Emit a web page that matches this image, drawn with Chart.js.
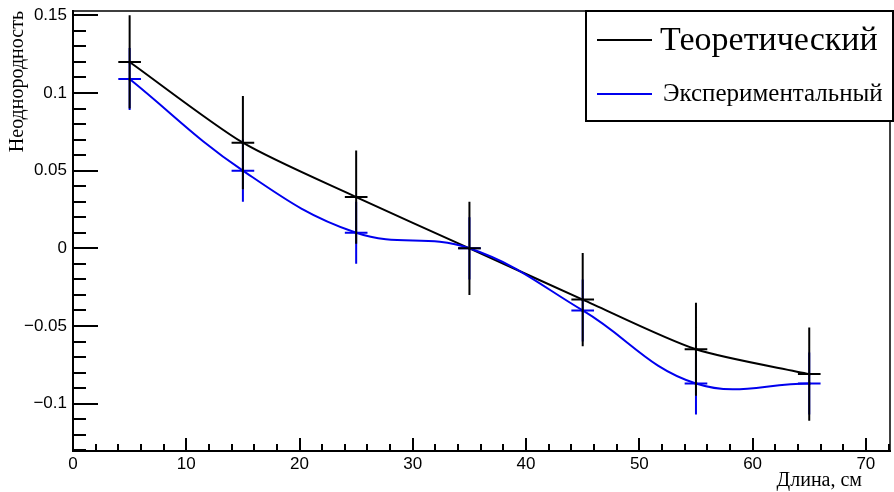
<!DOCTYPE html>
<html>
<head>
<meta charset="utf-8">
<script src="https://cdn.jsdelivr.net/npm/chart.js@4"></script>
<style>
  body { margin: 0; background: #fff; }
  canvas { display: block; }
</style>
</head>
<body>
<canvas id="plot" width="894" height="492"></canvas>
<script>
// measurement points, cm
const lengths = [5, 15, 25, 35, 45, 55, 65];
const lengthErrors = [1, 1, 1, 1, 1, 1, 1];

const theoryValues = [0.12, 0.068, 0.033, 0, -0.033, -0.065, -0.081];
const theoryErrors = [0.03, 0.03, 0.03, 0.03, 0.03, 0.03, 0.03];

const expValues = [0.109, 0.05, 0.01, 0, -0.04, -0.087, -0.087];
const expErrors = [0.02, 0.02, 0.02, 0.02, 0.02, 0.02, 0.02];

const xMajorTicks = [0, 10, 20, 30, 40, 50, 60, 70];
const xTickLabels = ["0", "10", "20", "30", "40", "50", "60", "70"];
const yMajorTicks = [-0.1, -0.05, 0, 0.05, 0.1, 0.15];
const yTickLabels = ["\u22120.1", "\u22120.05", "0", "0.05", "0.1", "0.15"];

const legendNames = ["Теоретический", "Экспериментальный"];

document.addEventListener("DOMContentLoaded", function () {
  const ctx = document.getElementById("plot").getContext("2d");

  const toPoints = (ys) => lengths.map((x, i) => ({ x: x, y: ys[i] }));

  // inward ticks and box frame, like a ROOT canvas
  const frame = {
    id: "frame",
    beforeDatasetsDraw(chart) {
      const { ctx, chartArea: a, scales } = chart;
      const x = scales.x, y = scales.y;
      ctx.save();
      ctx.strokeStyle = "#000";
      ctx.lineWidth = 1.5;
      ctx.strokeRect(a.left, a.top, a.right - a.left, a.bottom - a.top);
      ctx.lineWidth = 2;
      ctx.beginPath();
      for (let i = -13; i <= 15; i++) {
        const py = Math.round(y.getPixelForValue(i / 100));
        const len = i % 5 === 0 ? 25 : 13;
        ctx.moveTo(a.left, py);
        ctx.lineTo(a.left + len, py);
      }
      for (let v = 0; v <= 72; v += 2) {
        const px = Math.round(x.getPixelForValue(v));
        const len = v % 10 === 0 ? 13 : 7;
        ctx.moveTo(px, a.bottom);
        ctx.lineTo(px, a.bottom - len);
      }
      ctx.stroke();
      ctx.restore();
    },
  };

  const errorBars = {
    id: "errorBars",
    afterDatasetsDraw(chart) {
      const { ctx, scales } = chart;
      const x = scales.x, y = scales.y;
      ctx.save();
      chart.data.datasets.forEach((ds) => {
        ctx.strokeStyle = ds.borderColor;
        ctx.lineWidth = 2;
        ctx.beginPath();
        ds.data.forEach((p, i) => {
          const px = x.getPixelForValue(p.x);
          const py = y.getPixelForValue(p.y);
          ctx.moveTo(px, y.getPixelForValue(p.y + ds.yErr[i]));
          ctx.lineTo(px, y.getPixelForValue(p.y - ds.yErr[i]));
          ctx.moveTo(x.getPixelForValue(p.x - ds.xErr[i]), py);
          ctx.lineTo(x.getPixelForValue(p.x + ds.xErr[i]), py);
        });
        ctx.stroke();
      });
      ctx.restore();
    },
  };

  const legendBox = {
    id: "legendBox",
    afterDraw(chart) {
      const ctx = chart.ctx;
      ctx.save();
      ctx.fillStyle = "#fff";
      ctx.fillRect(586, 11, 307, 110);
      ctx.strokeStyle = "#000";
      ctx.lineWidth = 2;
      ctx.strokeRect(586, 11, 307, 110);

      const rows = [
        { y: 40, base: 50, size: 34, color: "#000" },
        { y: 94, base: 101, size: 25, color: "#0000ee" },
      ];
      rows.forEach((r, i) => {
        ctx.strokeStyle = r.color;
        ctx.lineWidth = 2;
        ctx.beginPath();
        ctx.moveTo(597, r.y);
        ctx.lineTo(652, r.y);
        ctx.stroke();
        ctx.fillStyle = "#000";
        ctx.font = r.size + "px 'Liberation Serif'";
        ctx.textBaseline = "alphabetic";
        ctx.textAlign = "left";
        ctx.fillText(legendNames[i], i === 0 ? 660 : 663, r.base);
      });

      // x axis title sits right-aligned under the axis
      ctx.font = "20px 'Liberation Serif'";
      ctx.textAlign = "right";
      ctx.fillText("Длина, см", 862, 486);
      ctx.restore();
    },
  };

  const config = {
    type: "line",
    data: {
      datasets: [
        {
          label: legendNames[1],
          data: toPoints(expValues),
          yErr: expErrors,
          xErr: lengthErrors,
          borderColor: "#0000ee",
          borderWidth: 2,
          tension: 0.4,
          pointRadius: 1.5,
          pointBackgroundColor: "#000",
          pointBorderWidth: 0,
        },
        {
          label: legendNames[0],
          data: toPoints(theoryValues),
          yErr: theoryErrors,
          xErr: lengthErrors,
          borderColor: "#000",
          borderWidth: 2,
          tension: 0.25,
          pointRadius: 1.5,
          pointBackgroundColor: "#000",
          pointBorderWidth: 0,
        },
      ],
    },
    options: {
      responsive: false,
      animation: false,
      layout: { padding: { left: 0, top: 11, right: 1, bottom: 0 } },
      plugins: {
        legend: { display: false },
        tooltip: { enabled: false },
      },
      scales: {
        x: {
          type: "linear",
          min: 0,
          max: 72.13,
          grid: { display: false, drawTicks: false },
          border: { display: true, color: "#000", width: 2 },
          afterBuildTicks: (s) => {
            s.ticks = xMajorTicks.map((v) => ({ value: v }));
          },
          afterFit: (s) => {
            s.height = 41;
          },
          ticks: {
            color: "#000",
            font: { family: "'Liberation Sans'", size: 17 },
            padding: 3,
            maxRotation: 0,
            autoSkip: false,
            callback: (v, i) => xTickLabels[i],
          },
        },
        y: {
          type: "linear",
          min: -0.1305,
          max: 0.1528,
          grid: { display: false, drawTicks: false },
          border: { display: true, color: "#000", width: 2 },
          afterBuildTicks: (s) => {
            s.ticks = yMajorTicks.map((v) => ({ value: v }));
          },
          afterFit: (s) => {
            // labels never reach the ends, so no extra room is needed
            s.width = 73;
            s.paddingTop = 0;
            s.paddingBottom = 0;
          },
          ticks: {
            color: "#000",
            font: { family: "'Liberation Sans'", size: 17 },
            padding: 6,
            autoSkip: false,
            callback: (v, i) => yTickLabels[i],
          },
          title: {
            display: true,
            text: "Неоднородность",
            align: "end",
            color: "#000",
            font: { family: "'Liberation Serif'", size: 20 },
            padding: { top: 6, bottom: 0 },
          },
        },
      },
    },
    plugins: [frame, errorBars, legendBox],
  };

  new Chart(ctx, config);
});
</script>
</body>
</html>
